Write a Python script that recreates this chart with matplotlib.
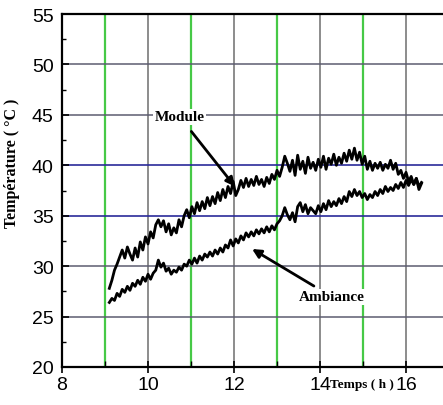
import numpy as np
import matplotlib
matplotlib.use('Agg')
import matplotlib.pyplot as plt
from matplotlib.ticker import MultipleLocator

# temps (h), one sample every 0.06 h
temps = np.round(9.10 + 0.06 * np.arange(122), 2)

module = [27.8, 28.6, 29.6, 30.2, 30.9, 31.6, 30.8, 31.9, 31.2, 30.6,
          31.8, 30.9, 32.4, 31.6, 32.9, 32.2, 33.4, 32.8, 34.1, 34.6,
          33.9, 34.5, 33.4, 34.2, 33.1, 33.8, 33.3, 34.6, 33.9, 35.0,
          35.6, 34.8, 35.9, 35.2, 36.3, 35.5, 36.4, 35.7, 36.8, 36.0,
          36.9, 36.2, 37.3, 36.5, 37.6, 36.8, 37.9, 37.2, 38.4, 37.0,
          37.6, 38.5, 37.8, 38.7, 37.9, 38.6, 38.0, 38.9, 38.1, 38.6,
          37.9, 38.8, 38.2, 39.1, 38.6, 39.5, 38.9, 39.8, 40.9, 40.2,
          39.4, 40.5, 39.0, 41.0, 39.6, 40.4, 39.2, 40.8, 39.7, 40.3,
          39.5, 40.6, 39.8, 40.9, 39.6, 40.7, 40.1, 41.1, 40.0, 40.8,
          40.2, 41.2, 40.4, 41.5, 40.6, 41.7, 40.5, 41.3, 40.1, 40.9,
          39.6, 40.4, 39.5, 40.2, 39.7, 40.3, 39.5, 40.1, 39.7, 40.5,
          39.6, 40.2, 39.1, 39.5, 38.7, 39.3, 38.4, 38.9, 38.1, 38.7, 37.6, 38.2]

ambiance = [26.4, 26.8, 26.6, 27.3, 27.0, 27.7, 27.4, 28.0, 27.6, 28.3,
            28.0, 28.6, 28.2, 28.9, 28.5, 29.2, 28.7, 29.3, 29.6, 30.6,
            29.9, 30.3, 29.5, 29.8, 29.2, 29.6, 29.4, 29.9, 29.6, 30.2,
            30.0, 30.6, 30.2, 30.8, 30.3, 31.0, 30.6, 31.2, 30.9, 31.4,
            31.0, 31.6, 31.2, 31.8, 31.4, 32.1, 31.8, 32.6, 32.0, 32.7,
            32.3, 33.0, 32.6, 33.3, 32.9, 33.4, 33.0, 33.6, 33.2, 33.7,
            33.3, 33.9, 33.4, 34.0, 33.6, 34.2, 34.5, 35.0, 35.8, 35.1,
            34.6, 35.3, 34.4, 35.9, 36.3, 35.4, 36.1, 35.2, 35.8, 35.5,
            35.2, 36.0, 35.4, 36.2, 35.6, 36.5, 35.9, 36.4, 36.0, 36.7,
            36.2, 36.9, 36.4, 37.4, 36.9, 37.6, 37.0, 37.4, 36.8, 37.2,
            36.6, 37.1, 36.8, 37.4, 37.0, 37.6, 37.2, 37.9, 37.4, 37.8,
            37.5, 38.1, 37.7, 38.3, 37.8, 38.5, 38.0, 38.6, 38.1, 38.7, 37.9, 38.3]

green_x = [9, 11, 13, 15]
gray_x = [10, 12, 14, 16]
blue_y = [35, 40]
gray_y = [25, 30, 45, 50]

num_font = ['Liberation Sans', 'DejaVu Sans']
lab_font = ['Liberation Serif', 'DejaVu Serif']

fig = plt.figure(figsize=(4.43, 4.06), dpi=100)
ax = fig.add_axes([0.140, 0.0936, 0.860, 0.8694])

for x in green_x:
    ax.axvline(x, color='#46c946', lw=1.6, zorder=1)
for x in gray_x:
    ax.axvline(x, color='#6e6e6e', lw=1.1, zorder=1)
for y in gray_y:
    ax.axhline(y, color='#5c5c70', lw=1.1, zorder=1)
for y in blue_y:
    ax.axhline(y, color='#2a2a9a', lw=1.2, zorder=1)

ax.plot(temps, module, color='black', lw=2.0, zorder=3)
ax.plot(temps, ambiance, color='black', lw=2.0, zorder=3)

ax.set_xlim(8, 16.86)
ax.set_ylim(20, 55)
ax.xaxis.set_major_locator(MultipleLocator(2))
ax.xaxis.set_minor_locator(MultipleLocator(1))
ax.yaxis.set_major_locator(MultipleLocator(5))
ax.yaxis.set_minor_locator(MultipleLocator(2.5))
ax.tick_params(axis='x', which='major', direction='inout', length=9, width=1.2, pad=2)
ax.tick_params(axis='x', which='minor', direction='in', length=4, width=1)
ax.tick_params(axis='y', which='major', direction='in', length=5, width=1.2, pad=6)
ax.tick_params(axis='y', which='minor', direction='in', length=3, width=1)
for lab in ax.get_xticklabels() + ax.get_yticklabels():
    lab.set_family(num_font)
    lab.set_fontsize(14)

ax.spines['right'].set_visible(False)
for s in ['left', 'bottom', 'top']:
    ax.spines[s].set_linewidth(1.6)

ax.set_ylabel('Température ( °C )', family=lab_font, fontweight='bold', fontsize=11.5)
ax.yaxis.set_label_coords(-0.11, 0.58)
ax.text(14.97, 18.3, 'Temps ( h )', family=lab_font, fontweight='bold', fontsize=9.5,
        ha='center', va='center', clip_on=False)

ax.annotate('Module', xy=(12.02, 37.9), xytext=(10.74, 44.8),
            family=lab_font, fontweight='bold', fontsize=11, ha='center', va='center',
            bbox=dict(boxstyle='square,pad=0.1', fc='white', ec='none'),
            arrowprops=dict(arrowstyle='-|>', color='black', lw=2.0, mutation_scale=13,
                            shrinkA=6, shrinkB=0), zorder=4)
ax.annotate('Ambiance', xy=(12.42, 31.7), xytext=(14.28, 26.95),
            family=lab_font, fontweight='bold', fontsize=11, ha='center', va='center',
            bbox=dict(boxstyle='square,pad=0.1', fc='white', ec='none'),
            arrowprops=dict(arrowstyle='-|>', color='black', lw=2.0, mutation_scale=13,
                            shrinkA=4, shrinkB=0), zorder=4)

fig.savefig('out.png', dpi=100)
